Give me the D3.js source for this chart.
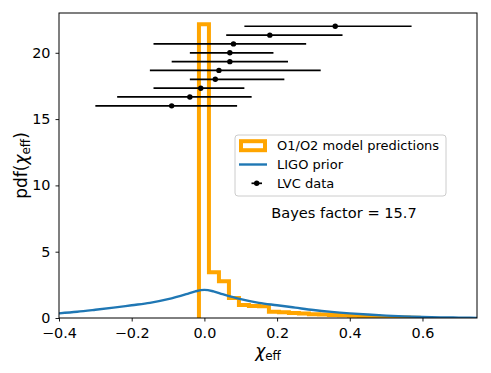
<!DOCTYPE html>
<html>
<head>
<meta charset="utf-8">
<script src="https://cdn.jsdelivr.net/npm/d3@7"></script>
<style>
  html, body { margin: 0; padding: 0; background: #fff; }
  svg { display: block; font-family: "DejaVu Sans", sans-serif; }
</style>
</head>
<body>
<div id="chart"></div>
<script>
// axis ticks
const xTicks = [-0.4, -0.2, 0.0, 0.2, 0.4, 0.6];
const yTicks = [0, 5, 10, 15, 20];

// O1/O2 model predictions (step histogram)
const histEdges = [-0.015, 0.0125, 0.04, 0.0675, 0.095, 0.1225, 0.15, 0.1775, 0.205, 0.2325,
                   0.26, 0.2875, 0.315, 0.3425, 0.37, 0.3975, 0.425, 0.4525, 0.48, 0.5075,
                   0.535, 0.5625, 0.59];
const histHeights = [22.15, 3.45, 2.78, 1.5, 0.98, 0.9, 0.88, 0.48, 0.43, 0.38,
                     0.33, 0.29, 0.26, 0.23, 0.2, 0.17, 0.14, 0.11, 0.08, 0.06,
                     0.04, 0.02];

// LIGO prior
const priorX = [-0.4, -0.35, -0.3, -0.25, -0.2, -0.15, -0.1, -0.05, -0.025, 0, 0.025, 0.05,
                0.1, 0.15, 0.2, 0.25, 0.3, 0.35, 0.4, 0.45, 0.5, 0.55, 0.6, 0.65, 0.7, 0.75];
const priorY = [0.35, 0.47, 0.62, 0.78, 0.96, 1.14, 1.42, 1.8, 2.01, 2.12, 2.01, 1.8,
                1.42, 1.14, 0.96, 0.78, 0.6, 0.46, 0.35, 0.26, 0.18, 0.12, 0.08, 0.05, 0.03, 0.01];

// LVC data (chi_eff median and 90% interval)
const lvcY   = [22, 21.33, 20.67, 20, 19.33, 18.67, 18, 17.33, 16.67, 16];
const lvcMid = [0.36, 0.18, 0.08, 0.07, 0.07, 0.04, 0.03, -0.01, -0.04, -0.09];
const lvcLo  = [0.11, 0.06, -0.14, -0.04, -0.09, -0.15, -0.04, -0.14, -0.24, -0.30];
const lvcHi  = [0.57, 0.38, 0.28, 0.19, 0.23, 0.32, 0.22, 0.11, 0.13, 0.09];

const W = 491, H = 373;
const m = { left: 59, right: 14, top: 13, bottom: 55 };
const ORANGE = "#ffa500", BLUE = "#1f77b4";

const svg = d3.select("#chart").append("svg").attr("width", W).attr("height", H);

const x = d3.scaleLinear().domain([-0.4, 0.75]).range([m.left, W - m.right]);
const y = d3.scaleLinear().domain([0, 23]).range([H - m.bottom, m.top]);

svg.append("clipPath").attr("id", "clip").append("rect")
    .attr("x", m.left).attr("y", m.top)
    .attr("width", W - m.left - m.right).attr("height", H - m.top - m.bottom);

const plot = svg.append("g").attr("clip-path", "url(#clip)");

// histogram outline (step, open at bottom)
const stepPts = [[histEdges[0], 0]];
histHeights.forEach((h, i) => {
    stepPts.push([histEdges[i], h]);
    stepPts.push([histEdges[i + 1], h]);
});
stepPts.push([histEdges[histEdges.length - 1], 0]);

plot.append("path")
    .attr("d", d3.line().x(d => x(d[0])).y(d => y(d[1]))(stepPts))
    .attr("fill", "none").attr("stroke", ORANGE).attr("stroke-width", 4)
    .attr("stroke-linejoin", "miter");

// prior curve
plot.append("path")
    .attr("d", d3.line().curve(d3.curveMonotoneX)
        .x((d, i) => x(priorX[i])).y(d => y(d))(priorY))
    .attr("fill", "none").attr("stroke", BLUE).attr("stroke-width", 2.4);

// error bars
const eb = plot.append("g");
lvcY.forEach((v, i) => {
    eb.append("line")
        .attr("x1", x(lvcLo[i])).attr("x2", x(lvcHi[i]))
        .attr("y1", y(v)).attr("y2", y(v))
        .attr("stroke", "#000").attr("stroke-width", 1.7);
    eb.append("circle")
        .attr("cx", x(lvcMid[i])).attr("cy", y(v)).attr("r", 2.7).attr("fill", "#000");
});

// axes
const fmt = d3.format(".1f");
const gx = svg.append("g").attr("transform", `translate(0,${H - m.bottom})`)
    .call(d3.axisBottom(x).tickValues(xTicks).tickFormat(fmt).tickSize(3.5).tickPadding(5));
const gy = svg.append("g").attr("transform", `translate(${m.left},0)`)
    .call(d3.axisLeft(y).tickValues(yTicks).tickSize(3.5).tickPadding(5));

[gx, gy].forEach(g => {
    g.select(".domain").remove();
    g.selectAll("line").attr("stroke", "#000").attr("stroke-width", 0.9);
    g.selectAll("text").attr("font-size", "14.4px").attr("fill", "#000")
        .attr("font-family", "DejaVu Sans");
});
gx.selectAll("text").attr("dy", "0.78em");
gy.selectAll("text").attr("dy", "0.3em");

// frame
svg.append("rect")
    .attr("x", m.left).attr("y", m.top)
    .attr("width", W - m.left - m.right).attr("height", H - m.top - m.bottom)
    .attr("fill", "none").attr("stroke", "#000").attr("stroke-width", 1);

// axis labels
const xl = svg.append("text")
    .attr("x", (m.left + W - m.right) / 2).attr("y", 357)
    .attr("text-anchor", "middle").attr("font-size", "17px");
xl.append("tspan").attr("font-style", "italic").text("χ");
xl.append("tspan").attr("font-size", "12px").attr("dy", 3).text("eff");

const yl = svg.append("text")
    .attr("transform", `translate(27,${(m.top + H - m.bottom) / 2}) rotate(-90)`)
    .attr("text-anchor", "middle").attr("font-size", "17px");
yl.append("tspan").text("pdf(");
yl.append("tspan").attr("font-style", "italic").text("χ");
yl.append("tspan").attr("font-size", "12px").attr("dy", 3).text("eff");
yl.append("tspan").attr("dy", -3).text(")");

// legend
const lg = svg.append("g");
lg.append("rect")
    .attr("x", 235).attr("y", 135).attr("width", 211).attr("height", 61)
    .attr("rx", 3).attr("fill", "#fff").attr("fill-opacity", 0.8)
    .attr("stroke", "#ccc").attr("stroke-width", 1);
const rows = [145.7, 164.5, 183.3];
lg.append("rect")
    .attr("x", 241).attr("y", rows[0] - 4.5).attr("width", 24).attr("height", 9)
    .attr("fill", "none").attr("stroke", ORANGE).attr("stroke-width", 4);
lg.append("line")
    .attr("x1", 239).attr("x2", 267).attr("y1", rows[1]).attr("y2", rows[1])
    .attr("stroke", BLUE).attr("stroke-width", 2.4);
lg.append("line")
    .attr("x1", 251.5).attr("x2", 262).attr("y1", rows[2]).attr("y2", rows[2])
    .attr("stroke", "#000").attr("stroke-width", 1.7);
lg.append("circle").attr("cx", 256.7).attr("cy", rows[2]).attr("r", 2.7).attr("fill", "#000");
["O1/O2 model predictions", "LIGO prior", "LVC data"].forEach((t, i) => {
    lg.append("text").attr("x", 277).attr("y", rows[i]).attr("dy", "0.36em")
        .attr("font-size", "13px").text(t);
});

// Bayes factor annotation
svg.append("text")
    .attr("x", 344).attr("y", 218).attr("text-anchor", "middle")
    .attr("font-size", "14.6px").attr("xml:space", "preserve")
    .text("Bayes factor = 15.7");
</script>
</body>
</html>
